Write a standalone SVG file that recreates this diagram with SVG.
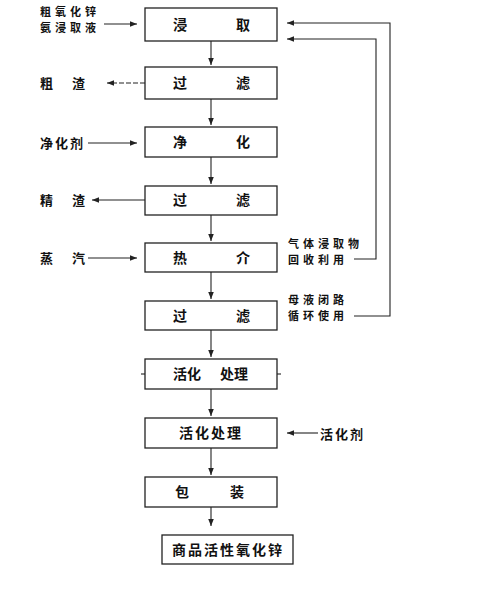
<svg xmlns="http://www.w3.org/2000/svg" width="500" height="614" viewBox="0 0 500 614">
<defs>
<marker id="ah" viewBox="0 0 10 10" refX="10" refY="5" markerWidth="7" markerHeight="7" orient="auto-start-reverse" markerUnits="userSpaceOnUse">
<path d="M0,1 L10,5 L0,9 Z" fill="#222"/>
</marker>
<style>
.box{fill:#fff;stroke:#222;stroke-width:1.3}
.t{font-family:"Noto Sans CJK SC","Noto Sans CJK JP",sans-serif;font-size:14px;font-weight:bold;fill:#111}
.l{font-family:"Noto Sans CJK SC","Noto Sans CJK JP",sans-serif;font-size:13px;font-weight:bold;fill:#111}
.m{font-family:"Noto Sans CJK SC","Noto Sans CJK JP",sans-serif;font-size:11px;font-weight:bold;fill:#111;letter-spacing:4px}
.c{fill:none;stroke:#222;stroke-width:1.1}
.d{stroke-dasharray:5 2}
</style>
</defs>
<rect width="500" height="614" fill="#fff"/>
<g id="n1"><rect class="box" x="145" y="8" width="132" height="33"/><text class="t" x="180" y="30" text-anchor="middle">浸</text><text class="t" x="243" y="30" text-anchor="middle">取</text></g>
<g id="n2"><rect class="box" x="145" y="67" width="132" height="32"/><text class="t" x="180" y="88" text-anchor="middle">过</text><text class="t" x="243" y="88" text-anchor="middle">滤</text></g>
<g id="n3"><rect class="box" x="145" y="127" width="132" height="30"/><text class="t" x="180" y="147" text-anchor="middle">净</text><text class="t" x="243" y="147" text-anchor="middle">化</text></g>
<g id="n4"><rect class="box" x="145" y="186" width="132" height="29"/><text class="t" x="180" y="205" text-anchor="middle">过</text><text class="t" x="243" y="205" text-anchor="middle">滤</text></g>
<g id="n5"><rect class="box" x="145" y="243" width="132" height="29"/><text class="t" x="180" y="263" text-anchor="middle">热</text><text class="t" x="243" y="263" text-anchor="middle">介</text></g>
<g id="n6"><rect class="box" x="145" y="301" width="132" height="29"/><text class="t" x="180" y="321" text-anchor="middle">过</text><text class="t" x="243" y="321" text-anchor="middle">滤</text></g>
<g id="n7"><rect class="box" x="145" y="359" width="132" height="30"/><line class="c" x1="141" y1="374" x2="145" y2="374"/><line class="c" x1="277" y1="374" x2="281" y2="374"/><text class="t" x="187" y="379" text-anchor="middle">活化</text><text class="t" x="234" y="379" text-anchor="middle">处理</text></g>
<g id="n8"><rect class="box" x="145" y="418" width="132" height="30"/><text class="t" x="211" y="438" text-anchor="middle" letter-spacing="2">活化处理</text></g>
<g id="n9"><rect class="box" x="145" y="477" width="132" height="30"/><text class="t" x="182" y="497" text-anchor="middle">包</text><text class="t" x="237" y="497" text-anchor="middle">装</text></g>
<g id="n10"><rect class="box" x="162" y="535" width="131" height="29"/><text class="t" x="228" y="555" text-anchor="middle" letter-spacing="2">商品活性氧化锌</text></g>
<g id="labels">
<text class="m" x="40" y="16">粗氧化锌</text>
<text class="m" x="40" y="32">氨浸取液</text>
<text class="l" x="40" y="88">粗</text><text class="l" x="72" y="88">渣</text>
<text class="l" x="40" y="148" letter-spacing="2">净化剂</text>
<text class="l" x="40" y="205">精</text><text class="l" x="72" y="205">渣</text>
<text class="l" x="40" y="263">蒸</text><text class="l" x="72" y="263">汽</text>
<text class="m" x="288" y="248">气体浸取物</text>
<text class="m" x="288" y="264">回收利用</text>
<text class="m" x="288" y="304">母液闭路</text>
<text class="m" x="288" y="320">循环使用</text>
<text class="l" x="320" y="439" letter-spacing="2">活化剂</text>
</g>
<g id="connectors">
<line class="c" x1="211" y1="41" x2="211" y2="65" marker-end="url(#ah)"/>
<line class="c" x1="211" y1="99" x2="211" y2="125" marker-end="url(#ah)"/>
<line class="c" x1="211" y1="157" x2="211" y2="184" marker-end="url(#ah)"/>
<line class="c" x1="211" y1="215" x2="211" y2="241" marker-end="url(#ah)"/>
<line class="c" x1="211" y1="272" x2="211" y2="299" marker-end="url(#ah)"/>
<line class="c" x1="211" y1="330" x2="211" y2="357" marker-end="url(#ah)"/>
<line class="c" x1="211" y1="389" x2="211" y2="416" marker-end="url(#ah)"/>
<line class="c" x1="211" y1="448" x2="211" y2="475" marker-end="url(#ah)"/>
<line class="c" x1="211" y1="507" x2="211" y2="526" marker-end="url(#ah)"/>
<line class="c" x1="104" y1="24" x2="137" y2="24" marker-end="url(#ah)"/>
<line class="c d" x1="145" y1="83" x2="107" y2="83" marker-end="url(#ah)"/>
<line class="c" x1="88" y1="143" x2="137" y2="143" marker-end="url(#ah)"/>
<line class="c" x1="145" y1="200" x2="92" y2="200" marker-end="url(#ah)"/>
<line class="c" x1="88" y1="258" x2="137" y2="258" marker-end="url(#ah)"/>
<line class="c" x1="318" y1="433" x2="287" y2="433" marker-end="url(#ah)"/>
<polyline class="c" points="354,259 376,259 376,39 287,39" marker-end="url(#ah)"/>
<polyline class="c" points="354,316 390,316 390,23 287,23" marker-end="url(#ah)"/>
</g>
</svg>
